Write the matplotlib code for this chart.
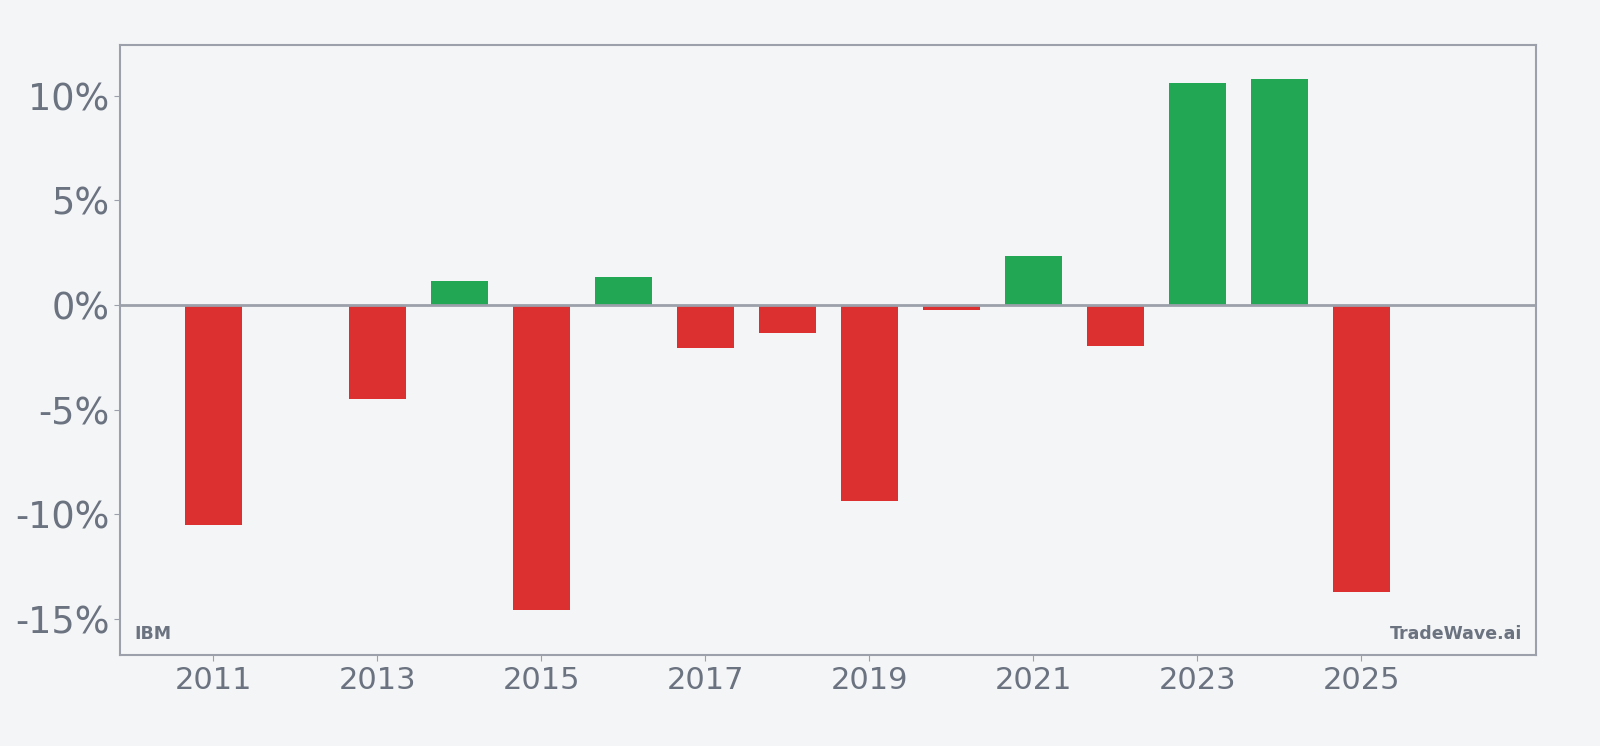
import matplotlib.pyplot as plt
from matplotlib.ticker import FuncFormatter

# yearly returns, percent
years = [2011, 2013, 2014, 2015, 2016, 2017, 2018, 2019, 2020, 2021, 2022, 2023, 2024, 2025]
returns = [-10.50, -4.49, 1.17, -14.58, 1.36, -2.04, -1.32, -9.35, -0.24, 2.36, -1.94, 10.62, 10.80, -13.70]
xticks = [2011, 2013, 2015, 2017, 2019, 2021, 2023, 2025]
yticks = [-15, -10, -5, 0, 5, 10]

bg = "#f4f5f7"
text_gray = "#6b7280"
edge_gray = "#9ca0aa"
red = "#dc2f2f"
green = "#22a755"

fig = plt.figure(figsize=(16, 7.46), dpi=100, facecolor=bg)
ax = fig.add_axes([0.075, 0.1216, 0.885, 0.8184], facecolor=bg)

colors = [green if r >= 0 else red for r in returns]
ax.bar(years, returns, width=0.7, color=colors, zorder=2)
ax.axhline(0, color=edge_gray, linewidth=2, zorder=3)

ax.set_xlim(2009.86, 2027.13)
ax.set_ylim(-16.74, 12.44)
ax.set_xticks(xticks)
ax.set_yticks(yticks)
ax.yaxis.set_major_formatter(FuncFormatter(lambda v, p: f"{v:.0f}%"))

for s in ax.spines.values():
    s.set_color(edge_gray)
    s.set_linewidth(1.5)
ax.tick_params(axis="y", colors=edge_gray, labelcolor=text_gray, labelsize=26.4, length=4, pad=3.5)
ax.tick_params(axis="x", colors=edge_gray, labelcolor=text_gray, labelsize=22, length=4, pad=4)

ax.text(0.01, 0.02, "IBM", transform=ax.transAxes, fontsize=12.5, fontweight="bold",
        color=text_gray, ha="left", va="bottom")
ax.text(0.99, 0.02, "TradeWave.ai", transform=ax.transAxes, fontsize=12.5, fontweight="bold",
        color=text_gray, ha="right", va="bottom")

fig.savefig("out.png", dpi=100, facecolor=bg)
